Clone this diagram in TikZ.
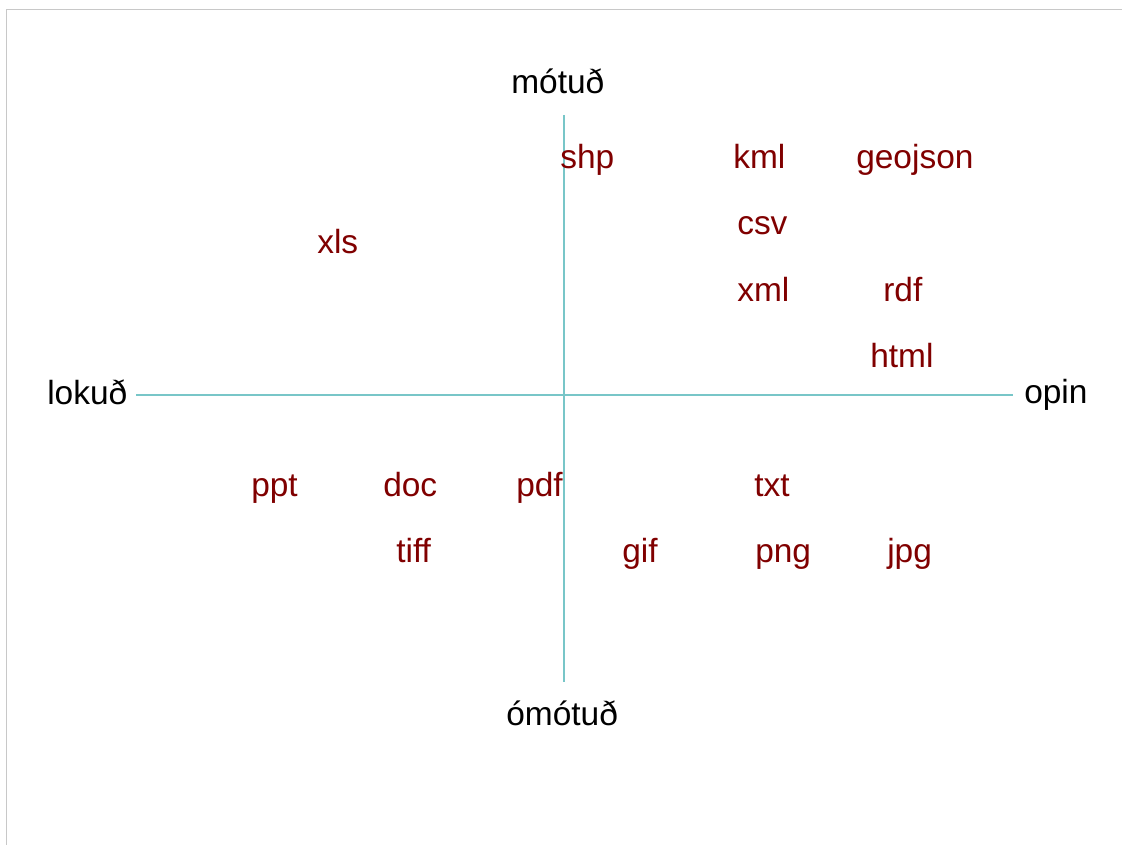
\documentclass[tikz,border=0pt]{standalone}
\usepackage{fontspec}
\setmainfont{Liberation Sans}
\definecolor{fmtred}{RGB}{128,0,0}
\definecolor{axisteal}{RGB}{120,198,200}
\definecolor{frameg}{RGB}{200,200,200}
\tikzset{
  lbl/.style={anchor=base west, inner sep=0pt, font=\fontsize{25.1}{30}\selectfont},
  fmt/.style={lbl, text=fmtred},
  axisline/.style={draw=axisteal, line width=1.3pt},
}
\begin{document}
\begin{tikzpicture}[x=0.75pt, y=-0.75pt]
\useasboundingbox (0,0) rectangle (1122,845);
\draw[frameg, line width=1.1pt] (6.5,845) -- (6.5,9.5) -- (1122,9.5);
% axes
\coordinate (vtop) at (564,115);
\coordinate (vbot) at (564,682);
\coordinate (hl) at (136,395);
\coordinate (hr) at (1013,395);
\draw[axisline] (vtop) -- (vbot);
\draw[axisline] (hl) -- (hr);
% axis labels
\node[lbl] (motud) at (511,94) {mótuð};
\node[lbl] (omotud) at (506,725) {ómótuð};
\node[lbl] (lokud) at (47,404) {lokuð};
\node[lbl] (opin) at (1024,403) {opin};
% formats
\node[fmt] (shp) at (560,169) {shp};
\node[fmt] (kml) at (733,169) {kml};
\node[fmt] (geojson) at (856,169) {geojson};
\node[fmt] (csv) at (737,235) {csv};
\node[fmt] (xls) at (317,253) {xls};
\node[fmt] (xml) at (737,301) {xml};
\node[fmt] (rdf) at (883,301) {rdf};
\node[fmt] (html) at (870,367) {html};
\node[fmt] (ppt) at (251,496) {ppt};
\node[fmt] (doc) at (383,496) {doc};
\node[fmt] (pdf) at (516,496) {pdf};
\node[fmt] (txt) at (754,496) {txt};
\node[fmt] (tiff) at (396,562) {tiff};
\node[fmt] (gif) at (622,562) {gif};
\node[fmt] (png) at (755,562) {png};
\node[fmt] (jpg) at (887,562) {jpg};
\end{tikzpicture}
\end{document}
